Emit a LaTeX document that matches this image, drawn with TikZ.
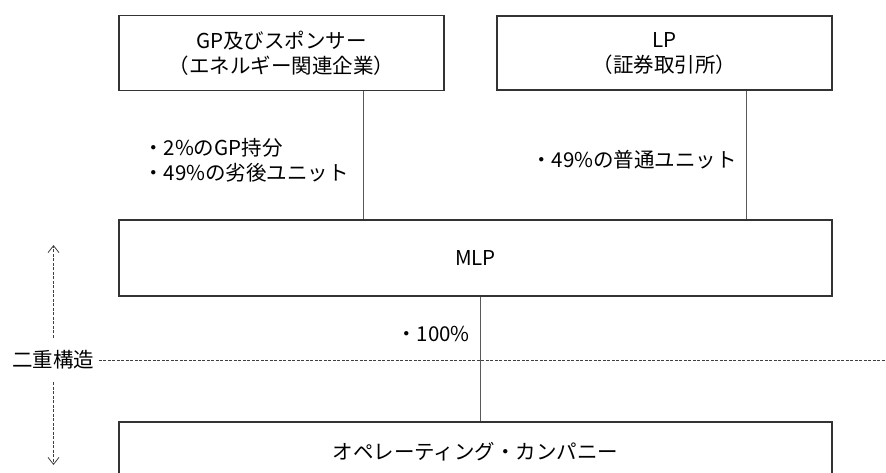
\documentclass[tikz,border=0pt]{standalone}
\usepackage{fontspec}
\setmainfont{Noto Sans CJK JP}
\usetikzlibrary{arrows.meta}
\begin{document}
\begin{tikzpicture}[x=1pt,y=-1pt,
  every node/.style={font=\fontsize{20.5}{25}\selectfont, text=black},
  box/.style={draw=black!80, line width=1.2pt, inner sep=0pt, align=center},
  conn/.style={draw=black!65, line width=0.9pt},
  lbl/.style={inner sep=0pt, align=left},
  dline/.style={draw=black!75, line width=0.7pt, dash pattern=on 3pt off 1.5pt},
  darr/.style={dline, -{Straight Barb[length=7pt,width=11pt,line width=0.8pt]}}]
\useasboundingbox (0,0) rectangle (886,473);
\clip (0,0) rectangle (886,473);
% boxes
\node[box, minimum width=325pt, minimum height=75pt] (gp) at (281.5,53) {GP及びスポンサー\\（エネルギー関連企業）};
\node[box, minimum width=335pt, minimum height=74pt] (lp) at (664.5,53) {LP\\（証券取引所）};
\node[box, minimum width=713pt, minimum height=76pt] (mlp) at (475.5,258) {MLP};
\node[box, minimum width=713pt, minimum height=60pt] (op) at (475.5,452) {オペレーティング・カンパニー};
% connector x positions
\coordinate (cgp) at (363,0);
\coordinate (clp) at (746,0);
\coordinate (cmlp) at (480,0);
\draw[conn] (cgp |- gp.south) -- (cgp |- mlp.north);
\draw[conn] (clp |- lp.south) -- (clp |- mlp.north);
\draw[conn] (cmlp |- mlp.south) -- (cmlp |- op.north);
% labels
\node[lbl, anchor=west] (l1) at (143,148) {・2\%のGP持分};
\node[lbl, anchor=west] (l2) at (143,173) {・49\%の劣後ユニット};
\node[lbl, anchor=east] (l3) at (737,160) {・49\%の普通ユニット};
\node[lbl, anchor=east] (l4) at (470,334) {・100\%};
% double structure
\node[inner xsep=4pt, inner ysep=0pt, minimum height=44pt] (ds) at (53.5,360) {二重構造};
\coordinate (dend) at (886,360);
\coordinate (uptip) at (53.5,245);
\coordinate (downtip) at (53.5,465);
\draw[dline] (ds.east) -- (dend);
\draw[darr] (ds.north) -- (uptip);
\draw[darr] (ds.south) -- (downtip);
\end{tikzpicture}
\end{document}
